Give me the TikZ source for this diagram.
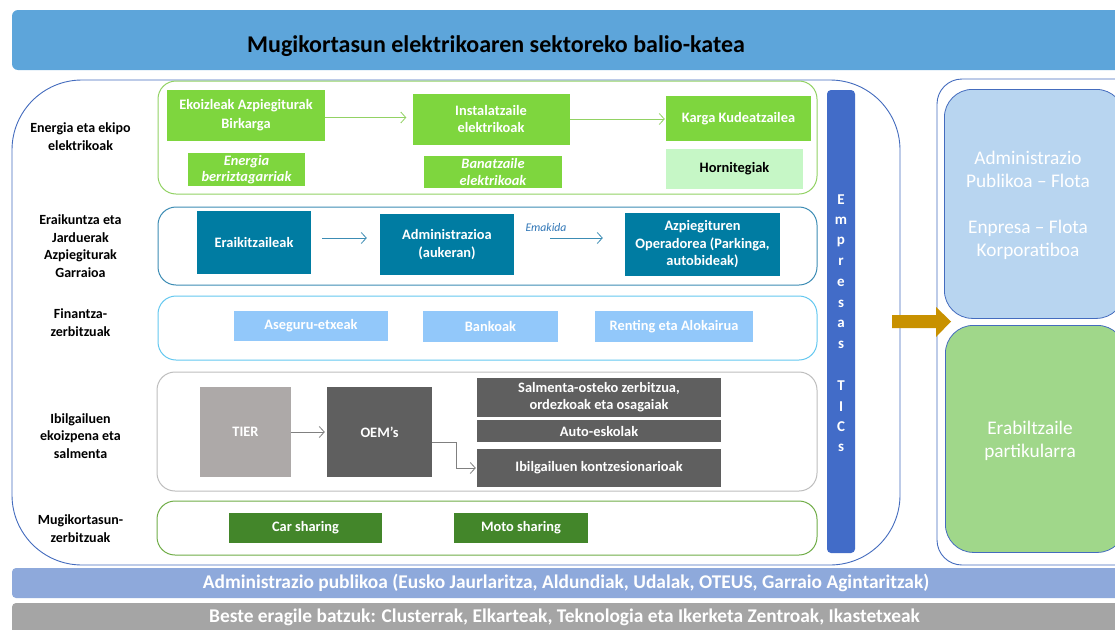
\documentclass[tikz,border=0pt]{standalone}
\usepackage{fontspec}
\setmainfont{Carlito}
\usetikzlibrary{arrows.meta}
\definecolor{titleblue}{RGB}{93,165,218}
\definecolor{outline}{RGB}{68,108,190}
\definecolor{bgreen}{RGB}{126,214,62}
\definecolor{lgreen}{RGB}{198,247,198}
\definecolor{g1border}{RGB}{146,210,100}
\definecolor{teal}{RGB}{0,124,162}
\definecolor{tealborder}{RGB}{60,140,180}
\definecolor{finblue}{RGB}{146,200,250}
\definecolor{finborder}{RGB}{100,200,240}
\definecolor{tiergray}{RGB}{173,169,168}
\definecolor{oemgray}{RGB}{95,95,95}
\definecolor{g4border}{RGB}{190,190,190}
\definecolor{dgreen}{RGB}{67,134,42}
\definecolor{g5border}{RGB}{112,173,71}
\definecolor{ticblue}{RGB}{66,108,200}
\definecolor{gold}{RGB}{200,145,0}
\definecolor{rtblue}{RGB}{184,213,240}
\definecolor{rbgreen}{RGB}{160,215,138}
\definecolor{bar1}{RGB}{142,169,219}
\definecolor{bar2}{RGB}{165,165,165}
\definecolor{emak}{RGB}{46,117,182}
\tikzset{
  x=1pt, y=-1pt,
  lbl/.style={font=\bfseries\fontsize{14}{17.5}\selectfont, align=center, text=black},
  bx/.style={inner sep=0pt, align=center, text=white, font=\bfseries\fontsize{14.4}{17.5}\selectfont},
  gbx/.style={bx, fill=bgreen},
  tbx/.style={bx, fill=teal},
  fbx/.style={bx, fill=finblue},
  dbx/.style={bx, fill=oemgray},
  cbx/.style={bx, fill=dgreen},
  grp/.style={rounded corners=18pt, line width=1pt},
  arr/.style={-{Straight Barb[length=5pt,width=11pt]}, line width=0.8pt},
}
\begin{document}
\begin{tikzpicture}
\useasboundingbox (0,0) rectangle (1115,629);
\fill[white] (0,0) rectangle (1115,629);
% title bar
\fill[titleblue, rounded corners=6pt] (12,10) rectangle (1130,70);
\node[font=\bfseries\fontsize{24}{28}\selectfont] (title) at (496,46) {Mugikortasun elektrikoaren sektoreko balio-katea};
% big left box
\draw[outline, line width=0.9pt, rounded corners=70pt] (12,80) rectangle (900,565);
% right outer box
\draw[outline, line width=0.9pt, rounded corners=25pt] (937,79) rectangle (1140,565);
% row frames
\draw[grp, g1border] (158,81) rectangle (817,194);
\draw[grp, tealborder] (158,207) rectangle (817,285);
\draw[grp, finborder] (158,296) rectangle (817,360);
\draw[grp, g4border] (157,372) rectangle (817,491);
\draw[grp, g5border] (157,501) rectangle (817,555);
% left labels
\node[lbl] (l1) at (80.5,136.5) {Energia eta ekipo\\elektrikoak};
\node[lbl] (l2) at (80.5,246) {Eraikuntza eta\\Jarduerak\\Azpiegiturak\\Garraioa};
\node[lbl] (l3) at (80.5,322.5) {Finantza-\\zerbitzuak};
\node[lbl] (l4) at (80.5,436) {Ibilgailuen\\ekoizpena eta\\salmenta};
\node[lbl] (l5) at (80.5,528.5) {Mugikortasun-\\zerbitzuak};
% row 1
\node[gbx, minimum width=158pt, minimum height=51pt, font=\bfseries\fontsize{14.4}{19}\selectfont] (ekoiz) at (246,115.5) {Ekoizleak Azpiegiturak\\Birkarga};
\node[gbx, minimum width=157pt, minimum height=51pt] (inst) at (491,119) {Instalatzaile\\elektrikoak};
\node[gbx, minimum width=145pt, minimum height=45pt] (karga) at (738.5,118.5) {Karga Kudeatzailea};
\node[gbx, minimum width=117pt, minimum height=33pt, font=\bfseries\itshape\fontsize{14.4}{16.5}\selectfont] (energia) at (246.5,169.5) {Energia\\berriztagarriak};
\node[gbx, minimum width=138pt, minimum height=32pt, font=\bfseries\itshape\fontsize{14.4}{16.5}\selectfont] (banatz) at (493,172) {Banatzaile\\elektrikoak};
\node[bx, fill=lgreen, text=black, minimum width=137pt, minimum height=40pt] (horn) at (734.5,169) {Hornitegiak};
\draw[arr, g1border] ([yshift=-2pt]ekoiz.east) -- ([yshift=-2pt]ekoiz.east -| inst.west) [shorten >=6pt];
\draw[arr, g1border] (inst.east) -- (inst.east -| karga.west) [shorten >=1pt];
% row 2
\node[tbx, minimum width=114pt, minimum height=63pt] (erai) at (254,242.5) {Eraikitzaileak};
\node[tbx, minimum width=134pt, minimum height=61pt] (admin) at (447,244.5) {Administrazioa\\(aukeran)};
\node[tbx, minimum width=155pt, minimum height=63pt] (azpi) at (702.5,244.5) {Azpiegituren\\Operadorea (Parkinga,\\autobideak)};
\draw[arr, tealborder, shorten <=11pt, shorten >=13pt] ([yshift=4.5pt]erai.east) -- ([yshift=4.5pt]erai.east -| admin.west);
\draw[arr, tealborder, shorten <=36pt, shorten >=22pt] ([yshift=6.5pt]admin.east) -- ([yshift=6.5pt]admin.east -| azpi.west);
\node[font=\itshape\fontsize{11.7}{13}\selectfont, text=emak] (emakida) at (546,227) {Emakida};
% row 3
\node[fbx, minimum width=154pt, minimum height=30pt] (aseg) at (311,326) {Aseguru-etxeak};
\node[fbx, minimum width=135pt, minimum height=31pt] (bank) at (490.5,326.5) {Bankoak};
\node[fbx, minimum width=158pt, minimum height=31pt] (rent) at (674,326.5) {Renting eta Alokairua};
% row 4
\node[bx, fill=tiergray, minimum width=91pt, minimum height=90pt] (tier) at (245.5,432) {TIER};
\node[dbx, minimum width=105pt, minimum height=90pt] (oem) at (379.5,432) {OEM’s};
\node[dbx, minimum width=244pt, minimum height=39pt, font=\bfseries\fontsize{14.4}{17}\selectfont] (salm) at (599,397.5) {Salmenta-osteko zerbitzua,\\ordezkoak eta osagaiak};
\node[dbx, minimum width=244pt, minimum height=22pt] (auto) at (599,431) {Auto-eskolak};
\node[dbx, minimum width=244pt, minimum height=38pt] (konz) at (599,468) {Ibilgailuen kontzesionarioak};
\draw[arr, gray, shorten >=2pt] (tier.east) -- (oem.west);
\draw[arr, gray, shorten >=1pt] ([yshift=-10pt]oem.east) -- ++(24,0) |- (konz.west);
% row 5
\node[cbx, minimum width=153pt, minimum height=30pt] (car) at (305.5,528) {Car sharing};
\node[cbx, minimum width=134pt, minimum height=30pt] (moto) at (521,528) {Moto sharing};
% TICs bar
\fill[ticblue, rounded corners=4pt] (827,90) rectangle (855,553);
\foreach \c/\yy in {E/200,m/221,p/242,r/262,e/283,s/304,a/324,s/345,T/386,I/407,C/427,s/448}
  \node[text=white, font=\bfseries\fontsize{15}{16}\selectfont] at (841,\yy) {\c};
% gold arrow
\fill[gold] (892,315) -- (936,315) -- (936,307) -- (951,321.5) -- (936,337) -- (936,328) -- (892,328) -- cycle;
% right boxes
\node[draw=outline, line width=0.8pt, fill=rtblue, rounded corners=28pt, minimum width=180pt, minimum height=229pt, inner sep=0pt, anchor=north west] (rtop) at (944,89) {};
\node[text=white, align=center, font=\fontsize{19.3}{23}\selectfont] (rtoptxt) at (1028,205.5) {Administrazio\\Publikoa – Flota\\[23pt]Enpresa – Flota\\Korporatiboa};
\node[draw=outline, line width=0.8pt, fill=rbgreen, rounded corners=28pt, minimum width=180pt, minimum height=227pt, inner sep=0pt, anchor=north west] (rbot) at (945,325) {};
\node[text=white, align=center, font=\fontsize{19.3}{23}\selectfont] (rbottxt) at (1030,441) {Erabiltzaile\\partikularra};
% bottom bars
\fill[bar1, rounded corners=4pt] (12,568) rectangle (1130,598);
\node[text=white, font=\bfseries\fontsize{19.4}{22}\selectfont] (b1) at (566,583) {Administrazio publikoa (Eusko Jaurlaritza, Aldundiak, Udalak, OTEUS, Garraio Agintaritzak)};
\fill[bar2, rounded corners=4pt] (12,603) rectangle (1130,640);
\node[text=white, font=\bfseries\fontsize{19.4}{22}\selectfont] (b2) at (564.5,617) {Beste eragile batzuk: Clusterrak, Elkarteak, Teknologia eta Ikerketa Zentroak, Ikastetxeak};
\end{tikzpicture}
\end{document}
